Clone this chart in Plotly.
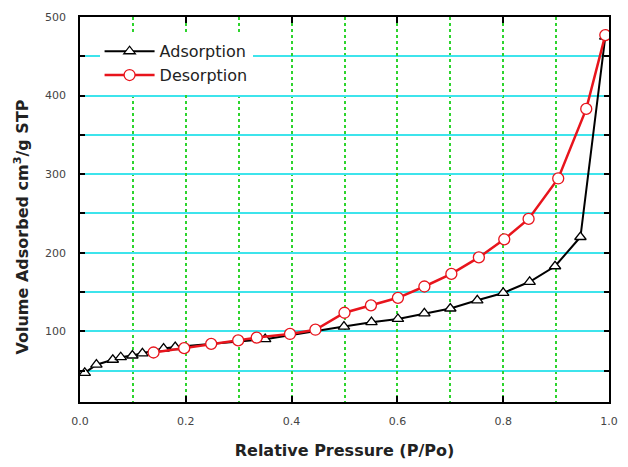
import plotly.graph_objects as go

# Adsorption branch (open triangles)
ads_x = [0.009, 0.031, 0.062, 0.077, 0.099, 0.118, 0.158, 0.180, 0.350, 0.499,
         0.551, 0.601, 0.651, 0.700, 0.751, 0.800, 0.850, 0.898, 0.946, 0.993]
ads_y = [47, 57.5, 63.8, 67, 69.2, 71.8, 78, 80, 90, 106,
         111.6, 115.7, 122.8, 129, 139.4, 148.8, 163, 182.8, 220, 475]

# Desorption branch (open circles)
des_x = [0.139, 0.197, 0.248, 0.299, 0.334, 0.397, 0.445, 0.500, 0.550, 0.601,
         0.651, 0.702, 0.754, 0.802, 0.848, 0.904, 0.957, 0.993]
des_y = [73, 78.5, 84, 88.4, 92, 96.6, 102, 123.6, 133, 142.6,
         157, 173, 194, 217, 243, 294.5, 383, 477]

x_ticks = [0.0, 0.2, 0.4, 0.6, 0.8, 1.0]
x_ticklabels = ["0.0", "0.2", "0.4", "0.6", "0.8", "1.0"]
y_ticks = [100, 200, 300, 400, 500]

CYAN = "#3ee4ec"
GREEN = "#2ed42e"

fig = go.Figure()
fig.add_trace(go.Scatter(
    x=ads_x, y=ads_y, mode="lines+markers", name="Adsorption",
    line=dict(color="black", width=2),
    marker=dict(symbol="triangle-up", size=10, color="white",
                line=dict(color="black", width=1.3)),
))
fig.add_trace(go.Scatter(
    x=des_x, y=des_y, mode="lines+markers", name="Desorption",
    line=dict(color="#e8141c", width=2.5),
    marker=dict(symbol="circle", size=11, color="white",
                line=dict(color="#e8141c", width=1.3)),
))

tickfont = dict(family="DejaVu Sans", size=11, color="#444444")

fig.update_layout(
    width=628, height=467,
    margin=dict(l=80, r=10, t=17, b=55),
    paper_bgcolor="white", plot_bgcolor="white",
    showlegend=True,
    legend=dict(x=0.037, y=0.955, xanchor="left", yanchor="top",
                bgcolor="white", borderwidth=0, itemwidth=50,
                font=dict(family="DejaVu Sans", size=16, color="#222222"),
                tracegroupgap=0),
    xaxis=dict(
        range=[0, 1], tickmode="array", tickvals=x_ticks, ticktext=x_ticklabels,
        ticks="inside", ticklen=6, tickwidth=1.5, tickcolor="black",
        showline=True, linecolor="black", linewidth=1.5, mirror="ticks",
        showgrid=True, gridcolor=GREEN, griddash="dot", gridwidth=1.5,
        minor=dict(dtick=0.1, tick0=0, showgrid=True, gridcolor=GREEN,
                   griddash="dot", gridwidth=1.5, ticks=""),
        zeroline=False, tickfont=tickfont, ticklabelstandoff=8,
        title=dict(text="Relative Pressure (P/Po)", standoff=18,
                   font=dict(family="DejaVu Sans", size=16, color="#222222",
                             weight="bold")),
    ),
    yaxis=dict(
        range=[10, 500], tickmode="array", tickvals=y_ticks,
        ticks="inside", ticklen=5, tickwidth=1.5, tickcolor="black",
        showline=True, linecolor="black", linewidth=1.5, mirror="ticks",
        showgrid=True, gridcolor=CYAN, griddash="dot", gridwidth=1.5,
        minor=dict(dtick=50, tick0=0, showgrid=True, gridcolor=CYAN,
                   griddash="solid", gridwidth=2, ticks="inside", ticklen=5,
                   tickwidth=1.5, tickcolor="black"),
        zeroline=False, tickfont=tickfont, ticklabelstandoff=10,
    ),
    annotations=[dict(
        text="Volume Adsorbed cm<sup>3</sup>/g STP",
        xref="paper", yref="paper", x=0, y=0.5, xshift=-58, yshift=-18,
        xanchor="center", yanchor="middle", textangle=-90, showarrow=False,
        font=dict(family="DejaVu Sans", size=16, color="#222222", weight="bold"),
    )],
)

fig.write_html("out.html")
